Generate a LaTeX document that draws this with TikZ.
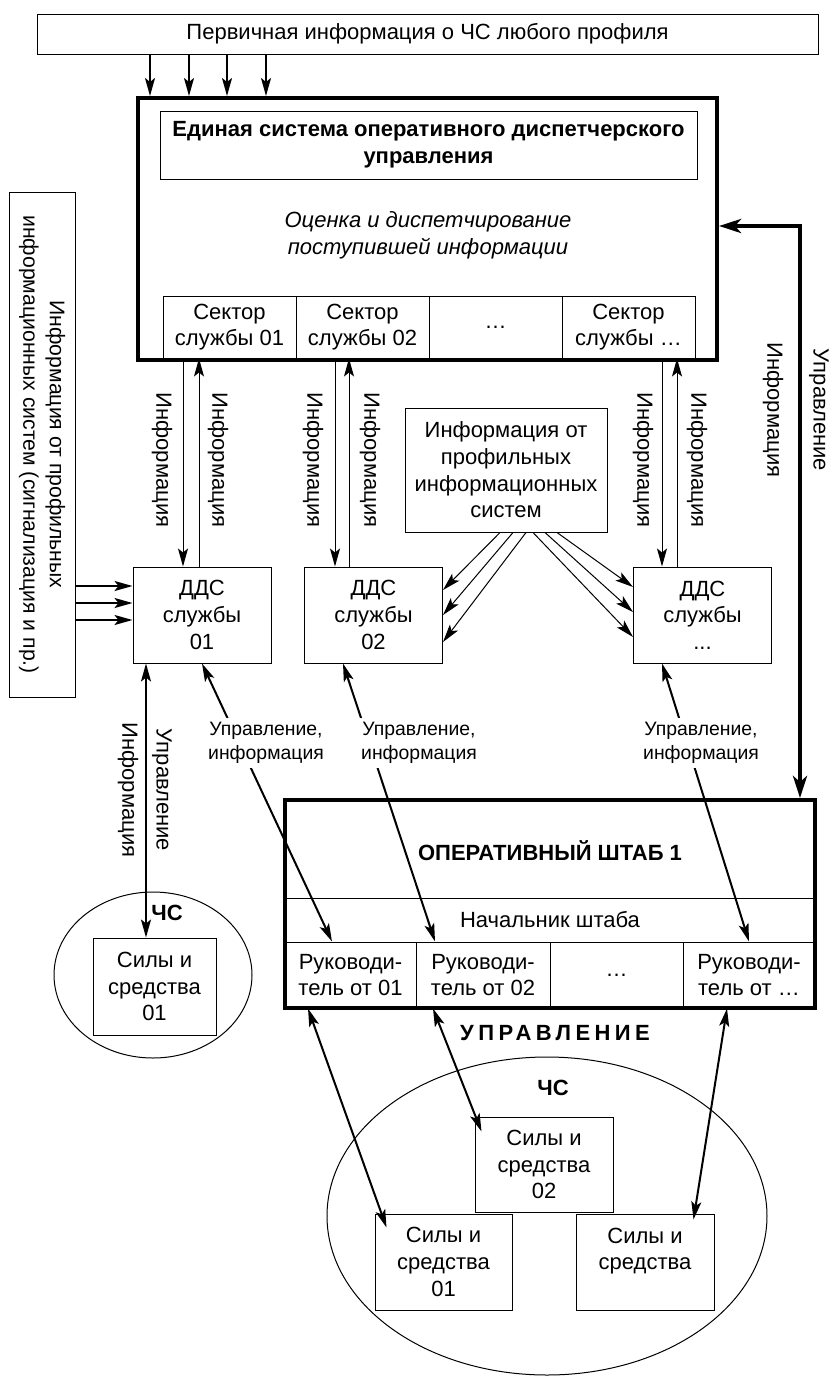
\documentclass[tikz,border=0pt]{standalone}
\usepackage{fontspec}
\setmainfont{Liberation Sans}
\usepackage{graphicx}
\usetikzlibrary{arrows.meta,shapes.geometric}
\def\DiagSize{\fontsize{11}{13.3}\selectfont}
\def\NoteSize{\fontsize{9.7}{12.3}\selectfont}

\begin{document}
\begin{tikzpicture}[x=0.5pt, y=-0.5pt, font=\DiagSize,
  >={Stealth[length=9pt,width=5pt,inset=2pt]},
  box/.style={draw, line width=0.5pt, align=center, inner sep=1pt},
  heavybox/.style={draw, line width=2pt, inner sep=0pt},
  heading/.style={font=\DiagSize\bfseries},
  lbl/.style={rotate=-90, inner sep=1pt},
  link/.style={line width=0.5pt, ->},
  mid/.style={line width=1pt},
  heavy/.style={line width=2pt, >={Stealth[length=11pt,width=7pt,inset=3pt]}},
  note/.style={align=center, fill=white, inner sep=2pt, font=\NoteSize}]
  \useasboundingbox (0,0) rectangle (832,1377);

  \node[box, minimum width=390.5pt, minimum height=20pt] (top) at (427.5,34)
    {Первичная информация о ЧС любого профиля};

  \node[box, minimum width=66.5pt, minimum height=31pt] (sec1) at (229.5,327) {Сектор\\службы 01};
  \node[box, minimum width=66.5pt, minimum height=31pt] (sec2) at (362.5,327) {Сектор\\службы 02};
  \node[box, minimum width=66.5pt, minimum height=31pt] (sec3) at (495.5,327) {…};
  \node[box, minimum width=66.5pt, minimum height=31pt] (secN) at (628.5,327) {Сектор\\службы …};
  \node[heavybox, minimum width=289.5pt, minimum height=131pt] (main) at (427.5,229) {};
  \node[box, minimum width=268.5pt, minimum height=34pt, font=\DiagSize\bfseries] (title) at (428.5,145)
    {Единая система оперативного диспетчерского\\управления};
  \node[align=center, font=\DiagSize\itshape] (eval) at (428,235)
    {Оценка и диспетчирование\\поступившей информации};

  \node[box, minimum width=69pt, minimum height=48pt] (dds1) at (202,615) {ДДС\\службы\\01};
  \node[box, minimum width=69pt, minimum height=48pt] (dds2) at (373.5,615) {ДДС\\службы\\02};
  \node[box, minimum width=69pt, minimum height=48pt] (ddsN) at (702.5,615) {ДДС\\службы\\...};

  \node[box, minimum width=33pt, minimum height=252.5pt, font=\fontsize{10.6}{13.3}\selectfont] (lbox) at (42,444.5)
    {\rotatebox{-90}{\begin{tabular}{@{}c@{}}Информация от профильных\\информационных систем (сигнализация и пр.)\end{tabular}}};
  \node[box, minimum width=101pt, minimum height=62pt] (info) at (506,470)
    {Информация от\\профильных\\информационных\\систем};

  \node[box, minimum width=265pt, minimum height=22pt] (nach) at (550,920) {Начальник штаба};
  \node[box, minimum width=65.5pt, minimum height=33pt] (ruk1) at (350.5,975) {Руководи-\\тель от 01};
  \node[box, minimum width=67pt, minimum height=33pt] (ruk2) at (483,975) {Руководи-\\тель от 02};
  \node[box, minimum width=66.5pt, minimum height=33pt] (ruk3) at (616.5,975) {…};
  \node[box, minimum width=66pt, minimum height=33pt] (rukN) at (749,975) {Руководи-\\тель от …};
  \node[heavybox, minimum width=265pt, minimum height=104pt] (osh) at (550,904) {};
  \node[heading] (oshtitle) at (550,851) {ОПЕРАТИВНЫЙ ШТАБ 1};
  \node[font=\DiagSize\bfseries\addfontfeatures{LetterSpace=20}] (upr) at (555,1033) {УПРАВЛЕНИЕ};

  \node[draw, ellipse, line width=0.5pt, minimum width=99pt, minimum height=83pt] (chs0) at (153,975) {};
  \node[box, minimum width=61.5pt, minimum height=48.5pt] (sila0) at (154.5,986.5) {Силы и\\средства\\01};
  \node[heading] (chs0lbl) at (167,913) {ЧС};

  \node[draw, ellipse, line width=0.5pt, minimum width=220pt, minimum height=159pt] (chs) at (547,1216) {};
  \node[heading] (chslbl) at (553,1088) {ЧС};
  \node[box, minimum width=69pt, minimum height=47.5pt] (sila2) at (544,1164.5) {Силы и\\средства\\02};
  \node[box, minimum width=68.5pt, minimum height=48pt] (sila1) at (443.5,1262) {Силы и\\средства\\01};
  \node[box, minimum width=69pt, minimum height=48pt] (sila3) at (645,1262) {Силы и\\средства\\~};

  \foreach \xx in {150,189,227,266}
    \draw[mid,->] (top.south -| \xx,0) -- (main.north -| \xx,0);

  \draw[link] ([xshift=-23.25pt]sec1.south) -- ([xshift=-9.5pt]dds1.north);
  \draw[link] ([xshift=-1.5pt]dds1.north) -- ([xshift=-15.25pt]sec1.south);
  \draw[link] ([xshift=-13.75pt]sec2.south) -- ([xshift=-19.25pt]dds2.north);
  \draw[link] ([xshift=-12.25pt]dds2.north) -- ([xshift=-6.75pt]sec2.south);
  \draw[link] ([xshift=16.75pt]secN.south) -- ([xshift=-20.25pt]ddsN.north);
  \draw[link] ([xshift=-12.75pt]ddsN.north) -- ([xshift=24.25pt]secN.south);
  \foreach \xx/\nm in {162/i1a, 218/i1b, 313/i2a, 370/i2b, 643/iNa, 697/iNb}
    \node[lbl] (\nm) at (\xx,460) {Информация};

  \foreach \yy in {586,603,620}
    \draw[mid,->] (lbox.east |- 0,\yy) -- (dds1.west |- 0,\yy);

  \draw[link] ([xshift=-3pt]info.south) -- ([yshift=12.5pt]dds2.east);
  \draw[link] ([xshift=3.5pt]info.south) -- (dds2.east);
  \draw[link] ([xshift=10pt]info.south) -- ([yshift=-13.5pt]dds2.east);
  \draw[link] ([xshift=25.5pt]info.south) -- ([yshift=14pt]ddsN.west);
  \draw[link] ([xshift=19.5pt]info.south) -- ([yshift=1.5pt]ddsN.west);
  \draw[link] ([xshift=13.5pt]info.south) -- ([yshift=-11pt]ddsN.west);

  \draw[heavy,<->] ([yshift=1.5pt]main.east) -| ([xshift=-8.5pt]osh.north east);
  \node[lbl] (iR) at (773,410) {Информация};
  \node[lbl] (uR) at (819,410) {Управление};

  \draw[mid,<->] (dds1.south) -- ([xshift=-9.25pt]ruk1.north);
  \draw[mid,<->] ([xshift=-15.25pt]dds2.south) -- ([xshift=-24pt]ruk2.north);
  \draw[mid,<->] ([xshift=-20.25pt]ddsN.south) -- (rukN.north);
  \node[note] (ui1) at (266,743) {Управление,\\информация};
  \node[note] (ui2) at (419,743) {Управление,\\информация};
  \node[note] (uiN) at (701,743) {Управление,\\информация};

  \draw[mid,<->] ([xshift=-28pt]dds1.south) -- ([xshift=-4.25pt]sila0.north);
  \node[lbl] (i0) at (128,790) {Информация};
  \node[lbl] (u0) at (162,790) {Управление};

  \draw[mid,<->] ([xshift=-21.25pt]ruk1.south) -- ([shift={(6pt,-7pt)}]sila1.north west);
  \draw[mid,<->] ([xshift=-25pt]ruk2.south) -- ([shift={(3.5pt,-7.5pt)}]sila2.north west);
  \draw[mid,<->] ([xshift=-11pt]rukN.south) -- ([shift={(-10.5pt,-3pt)}]sila3.north east);
\end{tikzpicture}
\end{document}
